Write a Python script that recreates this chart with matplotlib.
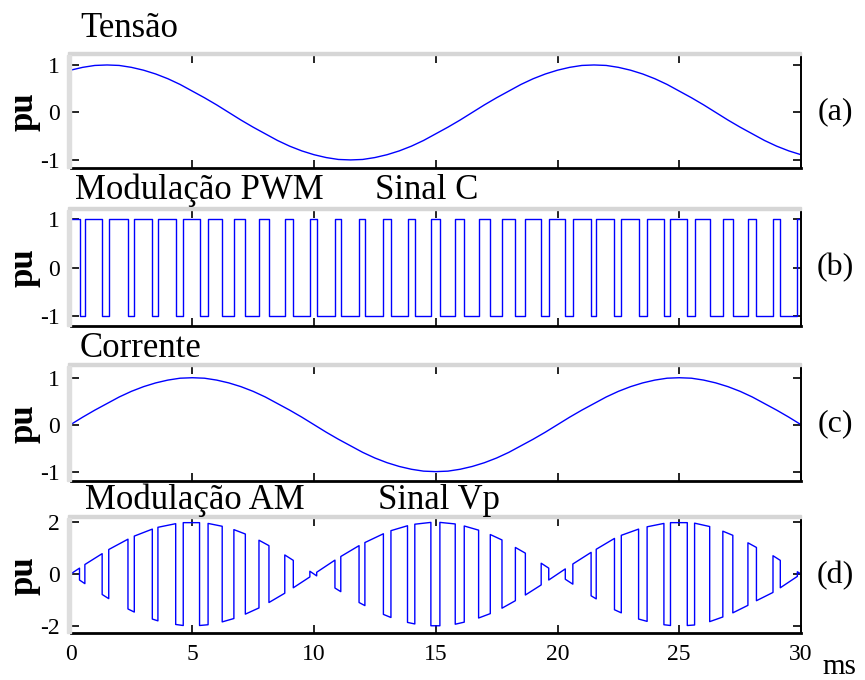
import numpy as np
import matplotlib.pyplot as plt
from matplotlib.patches import Rectangle

plt.rcParams['font.family'] = ['Liberation Serif', 'DejaVu Serif']
plt.rcParams['axes.unicode_minus'] = False

# time grid for the sampled waveforms (ms)
t_samp = np.arange(61) * 0.5

# (a) Tensão, read every 0.5 ms
tensao = [0.89, 0.95, 0.99, 1.00, 0.99, 0.95, 0.89, 0.81, 0.71, 0.59, 0.45, 0.31, 0.16,
          0.00, -0.16, -0.31, -0.45, -0.59, -0.71, -0.81, -0.89, -0.95, -0.99, -1.00,
          -0.99, -0.95, -0.89, -0.81, -0.71, -0.59, -0.45, -0.31, -0.16, 0.00, 0.16,
          0.31, 0.45, 0.59, 0.71, 0.81, 0.89, 0.95, 0.99, 1.00, 0.99, 0.95, 0.89, 0.81,
          0.71, 0.59, 0.45, 0.31, 0.16, 0.00, -0.16, -0.31, -0.45, -0.59, -0.71, -0.81,
          -0.89]

# (c) Corrente, read every 0.5 ms
corrente = [0.00, 0.16, 0.31, 0.45, 0.59, 0.71, 0.81, 0.89, 0.95, 0.99, 1.00, 0.99, 0.95,
            0.89, 0.81, 0.71, 0.59, 0.45, 0.31, 0.16, 0.00, -0.16, -0.31, -0.45, -0.59,
            -0.71, -0.81, -0.89, -0.95, -0.99, -1.00, -0.99, -0.95, -0.89, -0.81, -0.71,
            -0.59, -0.45, -0.31, -0.16, 0.00, 0.16, 0.31, 0.45, 0.59, 0.71, 0.81, 0.89,
            0.95, 0.99, 1.00, 0.99, 0.95, 0.89, 0.81, 0.71, 0.59, 0.45, 0.31, 0.16, 0.00]

# (b) PWM switching instants (ms), signal starts at +1
pwm_edges = [0.37, 0.59, 1.30, 1.57, 2.36, 2.62, 3.36, 3.59, 4.32, 4.63,
             5.30, 5.65, 6.23, 6.71, 7.18, 7.74, 8.15, 8.80, 9.15, 9.83,
             10.11, 10.86, 11.10, 11.85, 12.09, 12.85, 13.16, 13.84, 14.14, 14.80,
             15.17, 15.80, 16.17, 16.76, 17.24, 17.72, 18.27, 18.68, 19.33, 19.64,
             20.32, 20.63, 21.38, 21.59, 22.34, 22.62, 23.33, 23.68, 24.37, 24.64,
             25.33, 25.63, 26.25, 26.79, 27.20, 27.82, 28.17, 28.85, 29.15, 29.85]

# (d) envelope of Vp at each switching instant
vp_env = [0.23, 0.37, 0.79, 0.95, 1.35, 1.47, 1.74, 1.81, 1.95, 1.99,
          1.99, 1.96, 1.85, 1.72, 1.55, 1.31, 1.10, 0.74, 0.53, 0.11,
          -0.07, -0.54, -0.68, -1.10, -1.22, -1.56, -1.68, -1.87, -1.93, -2.00,
          -2.00, -1.94, -1.86, -1.70, -1.53, -1.32, -1.03, -0.81, -0.42, -0.23,
          0.20, 0.39, 0.84, 0.96, 1.38, 1.50, 1.74, 1.83, 1.96, 1.99,
          1.99, 1.97, 1.84, 1.66, 1.50, 1.21, 1.03, 0.71, 0.53, 0.09]

# build step traces
lev = 1
pwm_x, pwm_y = [0.0], [1]
vp_x, vp_y = [0.0], [0.0]
for e, env in zip(pwm_edges, vp_env):
    pwm_x += [e, e]
    pwm_y += [lev, -lev]
    vp_x += [e, e]
    vp_y += [env * lev, -env * lev]
    lev = -lev
pwm_x.append(30.0)
pwm_y.append(lev)
vp_x.append(30.0)
vp_y.append(0.0)

W, H = 865, 680
fig = plt.figure(figsize=(W / 100, H / 100), dpi=100)
LEFT, RIGHT = 70.5, 801


def add_ax(top, bottom):
    return fig.add_axes([LEFT / W, 1 - bottom / H, (RIGHT - LEFT) / W, (bottom - top) / H])


def ftext(x, y, s, **kw):
    fig.text(x / W, 1 - y / H, s, **kw)


panels = [(55, 168), (210, 326), (366, 481), (518, 633)]
ylims = [(-1.17, 1.21), (-1.21, 1.19), (-1.2, 1.25), (-2.28, 2.17)]
yticks = [[-1, 0, 1], [-1, 0, 1], [-1, 0, 1], [-2, 0, 2]]
series = [(t_samp, tensao), (pwm_x, pwm_y), (t_samp, corrente), (vp_x, vp_y)]
tags = ['(a)', '(b)', '(c)', '(d)']

for i, (top, bottom) in enumerate(panels):
    # faint grey shadow along the top and left edges of each frame
    fig.patches.append(Rectangle(((LEFT - 3) / W, 1 - top / H), (RIGHT - LEFT + 3) / W, 3.5 / H,
                                 transform=fig.transFigure, color='#d6d6d6', zorder=0))
    fig.patches.append(Rectangle(((LEFT - 3.5) / W, 1 - bottom / H), 3.5 / W, (bottom - top) / H,
                                 transform=fig.transFigure, color='#dedede', zorder=0))
    ax = add_ax(top, bottom)
    x, y = series[i]
    ax.plot(x, y, color='#0000ff', lw=1.0)
    ax.set_xlim(0, 30)
    ax.set_ylim(*ylims[i])
    ax.set_xticks(range(0, 31, 5))
    ax.set_yticks(yticks[i])
    ax.tick_params(direction='in', length=6, width=1.2, top=True, right=True,
                   labelsize=17, pad=8, colors='black')
    ax.tick_params(axis='x', labelbottom=(i == 3))
    for s in ax.spines.values():
        s.set_linewidth(1.4)
    ax.spines['bottom'].set_linewidth(2.0)
    mid = (top + bottom) / 2
    ftext(24, mid, 'pu', fontsize=25, fontweight='bold', rotation=90, ha='center', va='center')
    ftext(835, mid, tags[i], fontsize=23, ha='center', va='center')

ftext(80, 37, 'Tensão', fontsize=25, va='baseline')
ftext(75, 199, 'Modulação PWM', fontsize=25, va='baseline')
ftext(375, 199, 'Sinal C', fontsize=25, va='baseline')
ftext(80, 357, 'Corrente', fontsize=25, va='baseline')
ftext(85, 509, 'Modulação AM', fontsize=25, va='baseline')
ftext(378, 509, 'Sinal Vp', fontsize=25, va='baseline')
ftext(822, 674, 'ms', fontsize=21, ha='left', va='baseline')

fig.savefig('out.png', dpi=100)
